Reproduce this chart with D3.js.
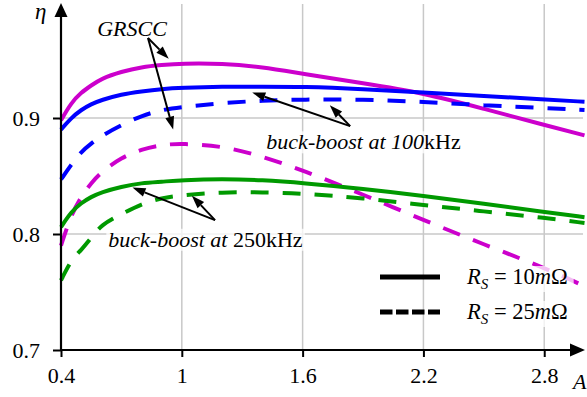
<!DOCTYPE html>
<html>
<head>
<meta charset="utf-8">
<script src="https://cdn.jsdelivr.net/npm/d3@7"></script>
<style>
  body { margin: 0; background: #fff; }
</style>
</head>
<body>
<svg id="chart" width="587" height="397"></svg>
<script>
// current (A) sample points
const currents = [0.4, 0.45, 0.5, 0.55, 0.6, 0.7, 0.8, 0.9, 1.0, 1.2, 1.4, 1.6, 1.9, 2.2, 2.5, 2.8, 3.0];

// efficiency values
const grscc10 = [0.898, 0.913, 0.922, 0.928, 0.934, 0.940, 0.944, 0.9457, 0.947, 0.947, 0.944, 0.938, 0.930, 0.9215, 0.908, 0.894, 0.885];
const grscc25 = [0.790, 0.8164, 0.832, 0.844, 0.8534, 0.866, 0.873, 0.877, 0.878, 0.876, 0.867, 0.855, 0.834, 0.812, 0.791, 0.771, 0.755];
const bb100_10 = [0.890, 0.900, 0.907, 0.912, 0.9155, 0.9205, 0.923, 0.925, 0.926, 0.927, 0.927, 0.927, 0.925, 0.922, 0.919, 0.916, 0.914];
const bb100_25 = [0.847, 0.8595, 0.871, 0.878, 0.8845, 0.894, 0.902, 0.907, 0.9095, 0.913, 0.915, 0.916, 0.916, 0.914, 0.911, 0.9085, 0.907];
const bb250_10 = [0.806, 0.819, 0.8267, 0.832, 0.836, 0.8408, 0.844, 0.845, 0.8465, 0.8475, 0.8465, 0.844, 0.839, 0.833, 0.826, 0.819, 0.8145];
const bb250_25 = [0.760, 0.7776, 0.786, 0.7966, 0.808, 0.817, 0.826, 0.831, 0.8335, 0.836, 0.836, 0.835, 0.831, 0.825, 0.8195, 0.814, 0.8095];

const xTicks = [0.4, 1, 1.6, 2.2, 2.8];
const yTicks = [0.7, 0.8, 0.9];

const FONT = '"Liberation Serif", "Times New Roman", Times, "DejaVu Serif", serif';

const series = [
  { values: grscc10, color: '#cc00cc', dashed: false },
  { values: bb100_10, color: '#0000ff', dashed: false },
  { values: bb100_25, color: '#0000ff', dashed: true },
  { values: grscc25, color: '#cc00cc', dashed: true },
  { values: bb250_10, color: '#009900', dashed: false },
  { values: bb250_25, color: '#009900', dashed: true }
];

const svg = d3.select('#chart');

const x = d3.scaleLinear().domain([0.4, 3.0]).range([61, 584.5]);
const y = d3.scaleLinear().domain([0.7, 1.0]).range([350, 2]);

// grid
svg.append('g')
  .selectAll('line')
  .data(xTicks.slice(1))
  .join('line')
  .attr('x1', d => x(d)).attr('x2', d => x(d))
  .attr('y1', 350).attr('y2', 4)
  .attr('stroke', '#c8c8c8').attr('stroke-width', 1.5);

svg.append('g')
  .selectAll('line')
  .data(yTicks.slice(1))
  .join('line')
  .attr('x1', 61).attr('x2', 583)
  .attr('y1', d => y(d)).attr('y2', d => y(d))
  .attr('stroke', '#c8c8c8').attr('stroke-width', 1.5);

// curves
const line = d3.line()
  .x((d, i) => x(currents[i]))
  .y(d => y(d))
  .curve(d3.curveBasis);

svg.append('g')
  .selectAll('path')
  .data(series)
  .join('path')
  .attr('d', d => line(d.values))
  .attr('fill', 'none')
  .attr('stroke', d => d.color)
  .attr('stroke-width', 4)
  .attr('stroke-dasharray', d => d.dashed ? '18,14' : null);

// axes
const xAxis = svg.append('g').attr('transform', 'translate(0,350)')
  .call(d3.axisBottom(x).tickValues(xTicks).tickSize(7).tickPadding(10).tickFormat(d3.format('')));
const yAxis = svg.append('g').attr('transform', 'translate(61,0)')
  .call(d3.axisLeft(y).tickValues(yTicks).tickSize(8).tickPadding(13).tickFormat(d3.format('.1f')));

[xAxis, yAxis].forEach(g => {
  g.attr('font-family', null);
  g.select('.domain').remove();
  g.selectAll('.tick line').attr('stroke', '#000').attr('stroke-width', 2);
  g.selectAll('.tick text').attr('font-size', 22).attr('fill', '#000');
});

// axis lines with arrowheads
svg.append('line').attr('x1', 61).attr('x2', 61).attr('y1', 351).attr('y2', 14)
  .attr('stroke', '#000').attr('stroke-width', 2.2);
svg.append('path').attr('d', 'M61,3 L54.5,17 L67.5,17 Z').attr('fill', '#000');
svg.append('line').attr('x1', 60).attr('x2', 574).attr('y1', 350).attr('y2', 350)
  .attr('stroke', '#000').attr('stroke-width', 2.2);
svg.append('path').attr('d', 'M585,350 L570,343.5 L570,356.5 Z').attr('fill', '#000');

svg.append('text').attr('x', 35).attr('y', 19).attr('font-size', 23)
  .attr('font-style', 'italic').text('η');
svg.append('text').attr('x', 573).attr('y', 389).attr('font-size', 22)
  .attr('font-style', 'italic').text('A');

// annotations
function label(px, py, parts, size) {
  const g = svg.append('g');
  const bg = g.append('rect');
  const t = g.append('text').attr('x', px).attr('y', py).attr('font-size', size);
  parts.forEach(p => t.append('tspan').attr('font-style', p[1] ? 'italic' : 'normal').text(p[0]));
  const b = t.node().getBBox();
  bg.attr('x', b.x - 2).attr('y', b.y + 2).attr('width', b.width + 4).attr('height', b.height - 3)
    .attr('fill', '#fff').attr('fill-opacity', 0.75);
}

function arrow(x0, y0, x1, y1) {
  const sx = x(x0), sy = y(y0), ex = x(x1), ey = y(y1);
  const ang = Math.atan2(ey - sy, ex - sx);
  const len = 13, hw = 4.5;
  const bx = ex - len * Math.cos(ang), by = ey - len * Math.sin(ang);
  svg.append('line').attr('x1', sx).attr('y1', sy).attr('x2', bx).attr('y2', by)
    .attr('stroke', '#000').attr('stroke-width', 2);
  svg.append('path')
    .attr('d', `M${ex},${ey} L${bx - hw * Math.sin(ang)},${by + hw * Math.cos(ang)} L${bx + hw * Math.sin(ang)},${by - hw * Math.cos(ang)} Z`)
    .attr('fill', '#000');
}

label(x(0.58), y(0.9705), [['GRSCC', true]], 22);
arrow(0.832, 0.969, 0.935, 0.951);
arrow(0.832, 0.969, 0.957, 0.890);

label(x(1.42), y(0.873), [['buck-boost at 100', true], ['kHz', false]], 22);
arrow(1.836, 0.893, 1.350, 0.922);
arrow(1.836, 0.893, 1.735, 0.911);

label(x(0.635), y(0.789), [['buck-boost at ', true], ['250kHz', false]], 22);
arrow(1.165, 0.812, 0.755, 0.840);
arrow(1.165, 0.812, 1.050, 0.833);

// legend
const legend = [
  { text: '10', dashed: false, yy: 277 },
  { text: '25', dashed: true, yy: 312 }
];
legend.forEach(l => {
  svg.append('line').attr('x1', 380).attr('x2', 440).attr('y1', l.yy).attr('y2', l.yy)
    .attr('stroke', '#000').attr('stroke-width', 5)
    .attr('stroke-dasharray', l.dashed ? '12.5,3.5' : null);
  const g = svg.append('g');
  const bg = g.append('rect');
  const t = g.append('text').attr('x', 467).attr('y', l.yy + 7).attr('font-size', 22.5);
  t.append('tspan').attr('font-style', 'italic').text('R');
  t.append('tspan').attr('font-style', 'italic').attr('font-size', 15).attr('dy', 5).text('S');
  t.append('tspan').attr('dy', -5).text(' = ' + l.text);
  t.append('tspan').attr('font-style', 'italic').text('m');
  t.append('tspan').text('Ω');
  const b = t.node().getBBox();
  bg.attr('x', b.x - 2).attr('y', b.y + 2).attr('width', b.width + 8).attr('height', b.height - 2)
    .attr('fill', '#fff').attr('fill-opacity', 0.75);
});

// inline style wins over any inherited attribute
svg.selectAll('text').style('font-family', FONT);
</script>
</body>
</html>
